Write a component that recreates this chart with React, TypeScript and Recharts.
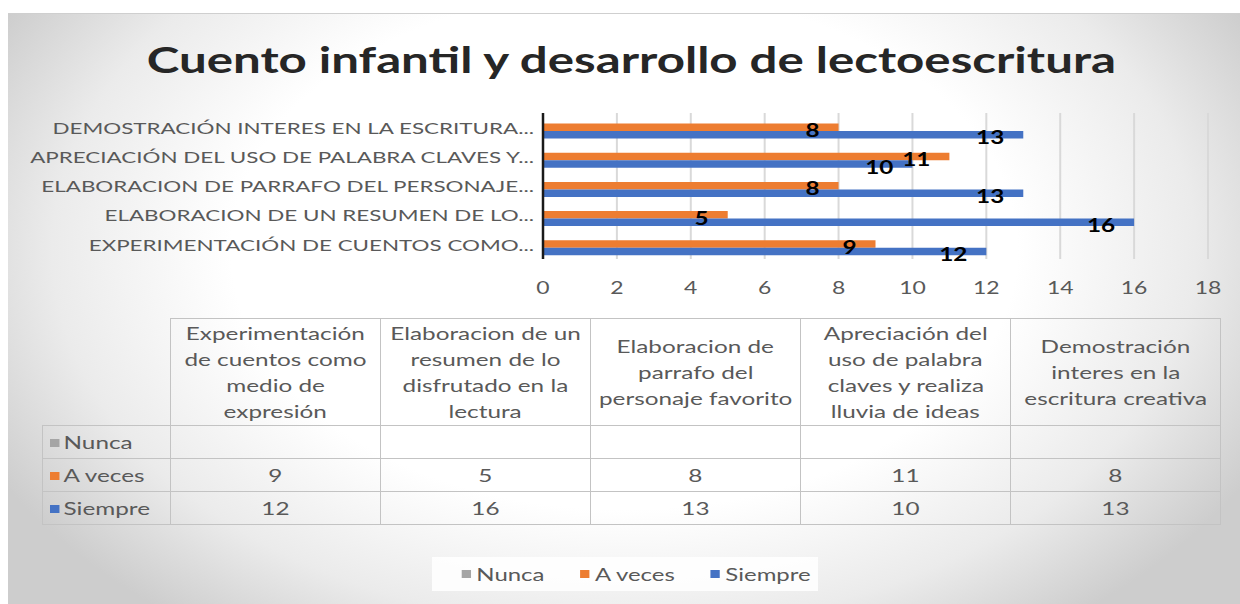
import React from 'react';
import { BarChart, Bar, XAxis, YAxis, CartesianGrid, LabelList } from 'recharts';

const categories: string[] = [
  'Experimentación de cuentos como medio de expresión',
  'Elaboracion de un resumen de lo disfrutado en la lectura',
  'Elaboracion de parrafo del personaje favorito',
  'Apreciación del uso de palabra claves y realiza lluvia de ideas',
  'Demostración interes en la escritura creativa',
];
const axisLabels: string[] = [
  'EXPERIMENTACIÓN DE CUENTOS COMO...',
  'ELABORACION DE UN RESUMEN  DE LO...',
  'ELABORACION DE PARRAFO DEL PERSONAJE...',
  'APRECIACIÓN DEL USO DE PALABRA CLAVES Y...',
  'DEMOSTRACIÓN INTERES EN LA ESCRITURA...',
];
const headerLines: string[][] = [
  ['Experimentación', 'de cuentos como', 'medio de', 'expresión'],
  ['Elaboracion de un', 'resumen de lo', 'disfrutado en la', 'lectura'],
  ['Elaboracion de', 'parrafo del', 'personaje favorito'],
  ['Apreciación del', 'uso de palabra', 'claves y realiza', 'lluvia de ideas'],
  ['Demostración', 'interes en la', 'escritura creativa'],
];
const nunca: (number | null)[] = [null, null, null, null, null];
const aVeces: number[] = [9, 5, 8, 11, 8];
const siempre: number[] = [12, 16, 13, 10, 13];
const xTicks: number[] = [0, 2, 4, 6, 8, 10, 12, 14, 16, 18];
const seriesNames: string[] = ['Nunca', 'A veces', 'Siempre'];
const seriesColors: string[] = ['#a5a5a5', '#ed7d31', '#4472c4'];
const title = 'Cuento infantil y desarrollo de lectoescritura';

const data = categories.map((c, i) => ({
  name: c,
  nunca: nunca[i],
  aVeces: aVeces[i],
  siempre: siempre[i],
}));
const seriesKeys = ['nunca', 'aVeces', 'siempre'];
const seriesValues = [nunca, aVeces, siempre];

const FONT = 'Lato, Carlito, Calibri, sans-serif';
const GRAY = '#595959';

const YTick = (props: any) => {
  const { x, y, payload } = props;
  const lbl = axisLabels[payload.index] ?? payload.value;
  return (
    <g transform={`translate(${x},${y}) scale(1.4,1)`}>
      <text x={0} y={0} textAnchor="end" dominantBaseline="central" fontFamily={FONT} fontSize={16} fill={GRAY}>
        {lbl}
      </text>
    </g>
  );
};

const XTick = (props: any) => {
  const { x, y, payload } = props;
  return (
    <g transform={`translate(${x},${y}) scale(1.35,1)`}>
      <text x={0} y={0} dy="0.71em" textAnchor="middle" fontFamily={FONT} fontSize={17} fill={GRAY}>
        {payload.value}
      </text>
    </g>
  );
};

const ValueLabel = (props: any) => {
  const { x, y, width, height, value } = props;
  if (value === null || value === undefined) return null;
  return (
    <g transform={`translate(${x + width - 19},${y + height / 2 + 3}) scale(1.35,1)`}>
      <text
        x={0}
        y={0}
        textAnchor="end"
        dominantBaseline="central"
        fontFamily={FONT}
        fontWeight={700}
        fontSize={18}
        fill="#000"
      >
        {value}
      </text>
    </g>
  );
};

const border = '1.5px solid #c3c3c3';
const stretch = (s: number, origin = 'center'): React.CSSProperties => ({
  display: 'inline-block',
  transform: `scaleX(${s})`,
  transformOrigin: origin,
  whiteSpace: 'nowrap',
});

export default function App() {
  return (
    <div
      style={{
        position: 'absolute',
        left: 8,
        top: 13,
        width: 1232,
        height: 591,
        borderTop: '1px solid #cfcfcf',
        boxSizing: 'border-box',
        background:
          'radial-gradient(ellipse 58% 80% at 50% 40%, #ffffff 55%, #ebebeb 80%, #cdcdcd 100%)',
        fontFamily: FONT,
        overflow: 'hidden',
      }}
    >
      <div
        style={{
          position: 'absolute',
          left: 7,
          top: 22,
          width: 1232,
          textAlign: 'center',
          fontSize: 37,
          fontWeight: 700,
          color: '#262626',
          lineHeight: '45px',
        }}
      >
        <span style={stretch(1.33)}>{title}</span>
      </div>

      <div style={{ position: 'absolute', left: 0, top: 0 }}>
        <BarChart
          width={1232}
          height={300}
          data={data}
          layout="vertical"
          margin={{ top: 99, right: 32, bottom: 25, left: 0 }}
          barGap={0}
          barSize={7.5}
        >
          <CartesianGrid horizontal={false} stroke="#d9d9d9" strokeWidth={2} />
          <XAxis
            type="number"
            domain={[0, 18]}
            ticks={xTicks}
            axisLine={false}
            tickLine={false}
            tickMargin={17}
            height={30}
            tick={<XTick />}
            interval={0}
          />
          <YAxis
            type="category"
            dataKey="name"
            reversed
            width={535}
            axisLine={{ stroke: '#1a1a1a', strokeWidth: 2.5 }}
            tickLine={false}
            tickMargin={3}
            tick={<YTick />}
            interval={0}
          />
          {seriesKeys.map((k, i) => (
            <Bar key={k} dataKey={k} name={seriesNames[i]} fill={seriesColors[i]} isAnimationActive={false}>
              <LabelList dataKey={k} content={<ValueLabel />} />
            </Bar>
          ))}
        </BarChart>
      </div>

      <table
        style={{
          position: 'absolute',
          left: 34,
          top: 304,
          borderCollapse: 'collapse',
          fontFamily: FONT,
          fontSize: 18,
          color: GRAY,
          tableLayout: 'fixed',
        }}
      >
        <colgroup>
          <col style={{ width: 128 }} />
          {categories.map((c) => (
            <col key={c} style={{ width: 210 }} />
          ))}
        </colgroup>
        <tbody>
          <tr style={{ height: 107 }}>
            <td style={{ border: 'none' }}></td>
            {headerLines.map((lines, i) => (
              <td
                key={i}
                style={{ border, textAlign: 'center', verticalAlign: 'middle', lineHeight: '26px', padding: 0 }}
              >
                {lines.map((l, j) => (
                  <div key={j}>
                    <span style={stretch(1.35)}>{l}</span>
                  </div>
                ))}
              </td>
            ))}
          </tr>
          {seriesNames.map((s, si) => (
            <tr key={s} style={{ height: 33 }}>
              <td style={{ border, padding: '0 0 0 7px' }}>
                <span style={stretch(1.35, 'left center')}>
                  <span
                    style={{
                      display: 'inline-block',
                      width: 7,
                      height: 8,
                      background: seriesColors[si],
                      marginRight: 3,
                      verticalAlign: 'middle',
                      position: 'relative',
                      top: -1,
                    }}
                  />
                  {s}
                </span>
              </td>
              {seriesValues[si].map((v, ci) => (
                <td key={ci} style={{ border, textAlign: 'center', padding: 0 }}>
                  <span style={stretch(1.35)}>{v === null ? '' : v}</span>
                </td>
              ))}
            </tr>
          ))}
        </tbody>
      </table>

      <div
        style={{
          position: 'absolute',
          left: 424,
          top: 543,
          width: 386,
          height: 34,
          background: 'rgba(255,255,255,0.85)',
          display: 'flex',
          alignItems: 'center',
          justifyContent: 'center',
          fontSize: 18,
          color: GRAY,
        }}
      >
        <div
          style={{
            display: 'flex',
            alignItems: 'center',
            gap: 27,
            transform: 'translateX(11px) scaleX(1.33)',
          }}
        >
          {seriesNames.map((s, i) => (
            <div key={s} style={{ display: 'flex', alignItems: 'center' }}>
              <span
                style={{ display: 'inline-block', width: 7, height: 8, background: seriesColors[i], marginRight: 4 }}
              />
              {s}
            </div>
          ))}
        </div>
      </div>
    </div>
  );
}
